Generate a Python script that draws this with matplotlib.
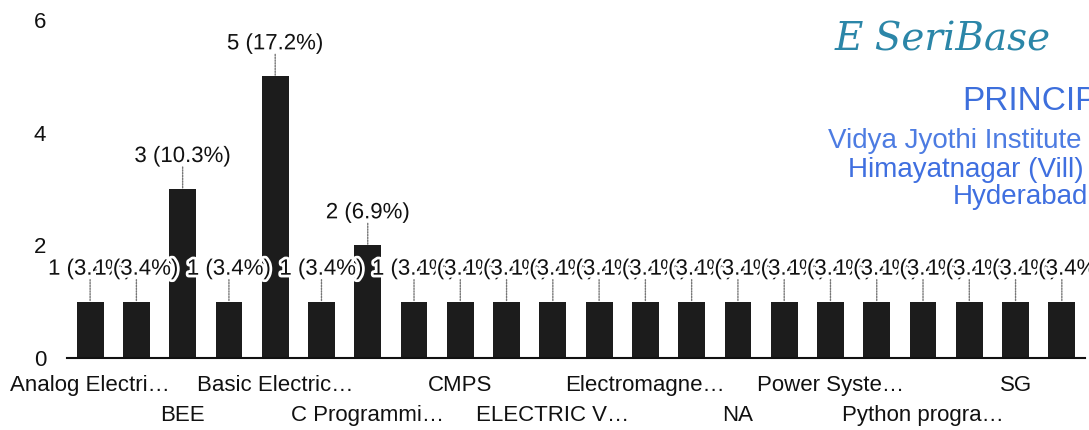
import matplotlib
matplotlib.use("Agg")
import matplotlib.pyplot as plt
import matplotlib.patheffects as pe

plt.rcParams['font.family'] = ['Liberation Sans', 'DejaVu Sans']

# one bar per course, 22 courses, only every other name is printed
counts = [1, 1, 3, 1, 5, 1, 2, 1, 1, 1, 1, 1, 1, 1, 1, 1, 1, 1, 1, 1, 1, 1]
row1_labels = ["Analog Electri…", "Basic Electric…", "CMPS",
               "Electromagne…", "Power Syste…", "SG"]
row2_labels = ["BEE", "C Programmi…", "ELECTRIC V…", "NA", "Python progra…"]
y_ticks = [0, 2, 4, 6]

total = sum(counts)
x = list(range(len(counts)))

fig = plt.figure(figsize=(10.89, 4.30), dpi=100)
ax = fig.add_axes([0.0615, 0.1674, 0.9348, 0.7861])

ax.bar(x, counts, width=0.58, color="#1c1c1c", zorder=2)

# leader lines + value labels with white halo
for i, v in enumerate(counts):
    ax.annotate("", xy=(i, v), xytext=(0, 22), textcoords="offset pixels",
                arrowprops=dict(arrowstyle="-", color="#777777", lw=1,
                                linestyle=(0, (1, 1)), shrinkA=0, shrinkB=0))
    ax.annotate(f"{v} ({v / total * 100:.1f}%)", xy=(i, v), xytext=(0, 27),
                textcoords="offset pixels", ha="center", va="baseline",
                fontsize=16, color="#111111", zorder=5,
                path_effects=[pe.withStroke(linewidth=4, foreground="white")])

ax.set_xlim(-0.5, len(counts) - 0.5)
ax.set_ylim(0, 6)
ax.set_yticks(y_ticks)
ax.set_yticklabels([str(t) for t in y_ticks], fontsize=16, color="#111111")

ax.set_xticks(x[0::4])
ax.set_xticklabels(row1_labels, fontsize=16, color="#111111")
ax.set_xticks(x[2::4], minor=True)
ax.set_xticklabels(row2_labels, minor=True, fontsize=16, color="#111111")
ax.tick_params(axis="x", which="major", length=0, pad=12)
ax.tick_params(axis="x", which="minor", length=0, pad=34)
ax.tick_params(axis="y", length=0, pad=15)

for side in ["top", "right", "left"]:
    ax.spines[side].set_visible(False)
ax.spines["bottom"].set_color("#111111")
ax.spines["bottom"].set_linewidth(1.5)
ax.spines["bottom"].set_zorder(3)

# principal's stamp and signature in the corner of the scan
fig.text(835 / 1089, 1 - 40 / 430, "E SeriBase", fontsize=28, color="#2b86a8",
         family="DejaVu Serif", style="italic", va="center")
fig.text(962 / 1089, 1 - 102 / 430, "PRINCIP", fontsize=24, color="#3d6fdc",
         va="center")
fig.text(828 / 1089, 1 - 141 / 430, "Vidya Jyothi Institute",
         fontsize=20, color="#4d7ce2", va="center")
fig.text(848 / 1089, 1 - 170 / 430, "Himayatnagar (Vill)", fontsize=20,
         color="#3f6fe0", va="center")
fig.text(953 / 1089, 1 - 197 / 430, "Hyderabad", fontsize=20,
         color="#3f6fe0", va="center")

fig.savefig("out.png", dpi=100)
